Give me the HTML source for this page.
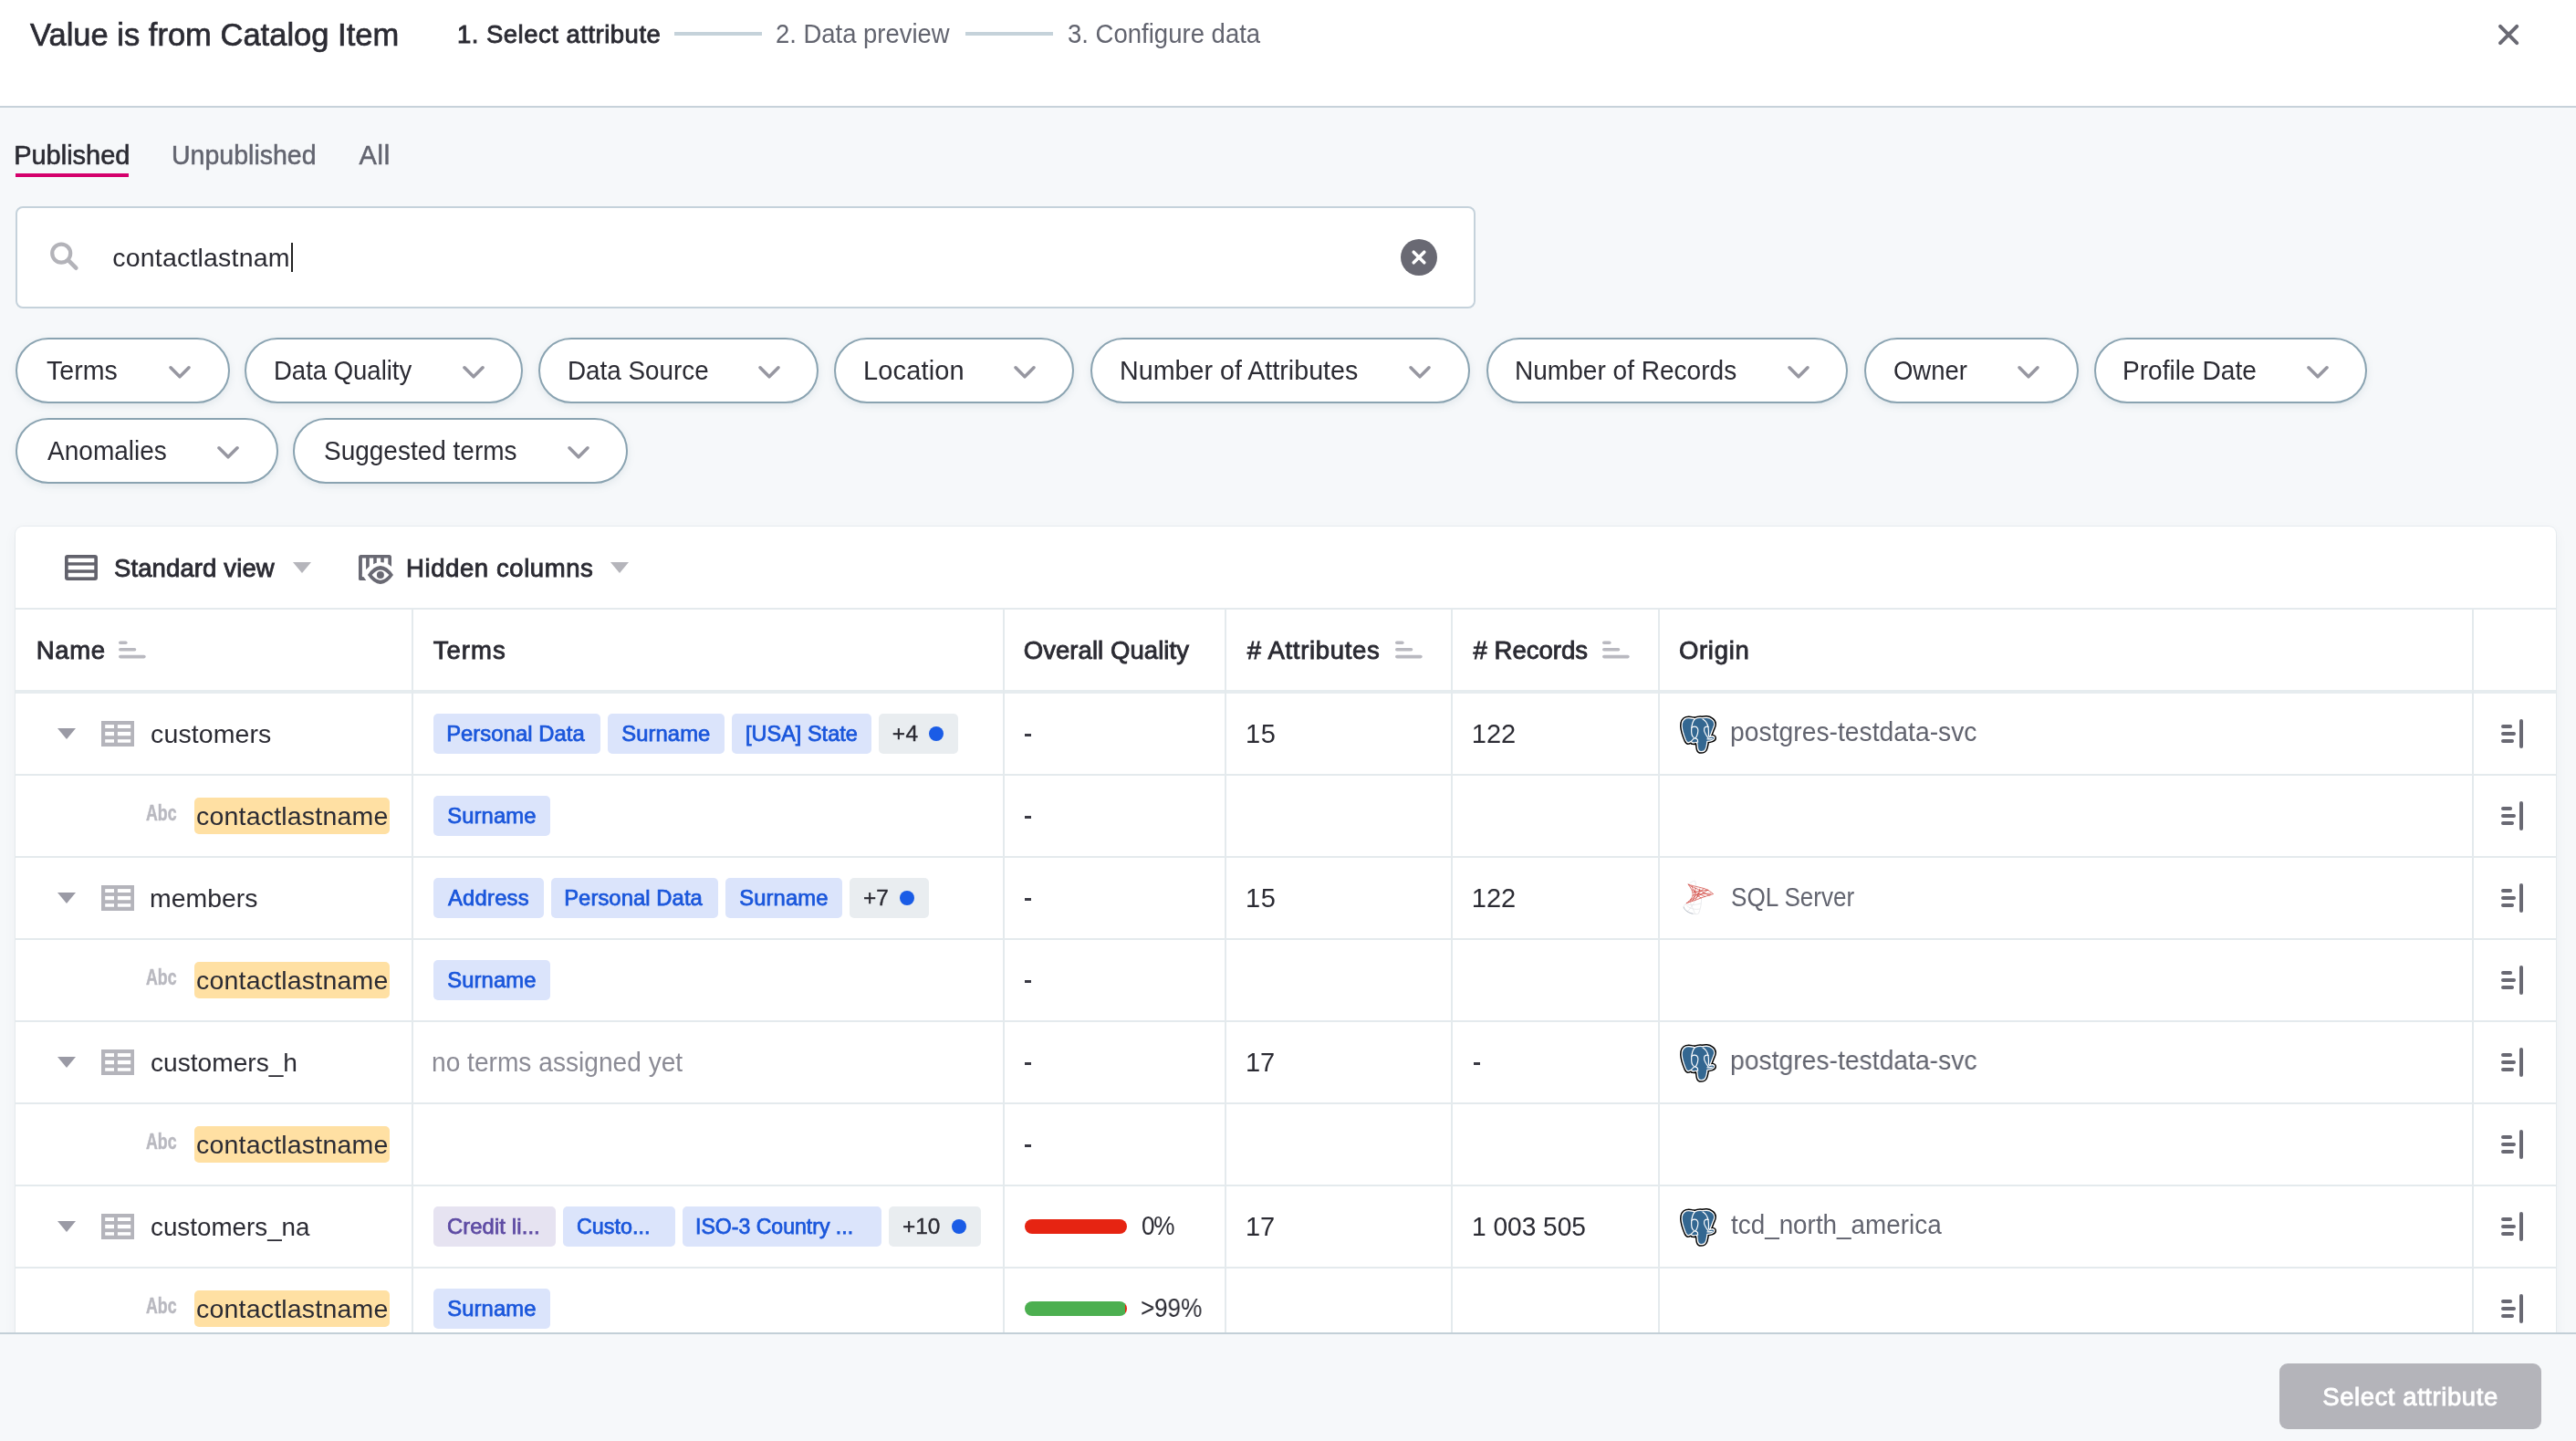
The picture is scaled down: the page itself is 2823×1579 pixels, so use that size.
<!DOCTYPE html>
<html><head><meta charset="utf-8"><title>Value is from Catalog Item</title>
<style>
html,body{margin:0;padding:0;}
body{width:2823px;height:1579px;overflow:hidden;background:#f6f8fa;position:relative;font-family:"Liberation Sans",sans-serif;}
#root{position:absolute;left:0;top:0;width:2823px;height:1579px;overflow:hidden;will-change:transform;}
#root>div,#root>svg,#root>span{position:absolute;display:block;}
#root>span{white-space:pre;line-height:1em;transform-origin:0 0;}
#root>div{box-sizing:content-box;}
</style></head><body><div id="root">
<div style="left:0.0px;top:0.0px;width:2823.0px;height:116.0px;background:#fff;border-bottom:2px solid #c7d2da;"></div>
<div style="left:739.0px;top:35.0px;width:95.7px;height:4.0px;background:#c5d2da;"></div>
<div style="left:1058.0px;top:35.0px;width:96.0px;height:4.0px;background:#c5d2da;"></div>
<svg style="left:2730px;top:18px" width="40" height="40" viewBox="2730 18 40 40"><path d="M2740 28.9 L2758.2 47.1 M2758.2 28.9 L2740 47.1" stroke="#696973" stroke-width="4" stroke-linecap="round" fill="none"/></svg>
<div style="left:16.8px;top:190.2px;width:124.2px;height:3.8px;background:#d4006c;"></div>
<div style="left:17px;top:226px;width:1595.7px;height:108px;background:#fff;border:2px solid #c5d2db;border-radius:8px;"></div>
<svg style="left:50px;top:260px" width="40" height="40" viewBox="50 260 40 40"><circle cx="67.2" cy="277.6" r="10" stroke="#b3b3b9" stroke-width="4.2" fill="none"/><path d="M74.8 285.2 L83.3 293.7" stroke="#b3b3b9" stroke-width="4.6" stroke-linecap="round"/></svg>
<div style="left:319.3px;top:266.2px;width:1.8px;height:31.4px;background:#222;"></div>
<svg style="left:1535px;top:262px" width="40" height="40" viewBox="0 0 40 40"><circle cx="20" cy="20" r="20" fill="#696973"/><path d="M14.2 14.2 L25.8 25.8 M25.8 14.2 L14.2 25.8" stroke="#fff" stroke-width="3.6" stroke-linecap="round"/></svg>
<div style="left:17.2px;top:370.2px;width:230.4px;height:67.8px;background:#fff;border:2px solid #8aa3b1;border-radius:36px;box-shadow:0 3px 8px rgba(90,120,140,0.13);"></div>
<svg style="left:180.8px;top:395.5px" width="32" height="24" viewBox="-16 -12 32 24"><path d="M-10 -5.2 L0 4.8 L10 -5.2" stroke="#9797a1" stroke-width="3.6" stroke-linecap="round" stroke-linejoin="round" fill="none"/></svg>
<div style="left:268.3px;top:370.2px;width:301.2px;height:67.8px;background:#fff;border:2px solid #8aa3b1;border-radius:36px;box-shadow:0 3px 8px rgba(90,120,140,0.13);"></div>
<svg style="left:502.7px;top:395.5px" width="32" height="24" viewBox="-16 -12 32 24"><path d="M-10 -5.2 L0 4.8 L10 -5.2" stroke="#9797a1" stroke-width="3.6" stroke-linecap="round" stroke-linejoin="round" fill="none"/></svg>
<div style="left:590.3px;top:370.2px;width:303.0px;height:67.8px;background:#fff;border:2px solid #8aa3b1;border-radius:36px;box-shadow:0 3px 8px rgba(90,120,140,0.13);"></div>
<svg style="left:826.5px;top:395.5px" width="32" height="24" viewBox="-16 -12 32 24"><path d="M-10 -5.2 L0 4.8 L10 -5.2" stroke="#9797a1" stroke-width="3.6" stroke-linecap="round" stroke-linejoin="round" fill="none"/></svg>
<div style="left:914.3px;top:370.2px;width:259.1px;height:67.8px;background:#fff;border:2px solid #8aa3b1;border-radius:36px;box-shadow:0 3px 8px rgba(90,120,140,0.13);"></div>
<svg style="left:1106.6px;top:395.5px" width="32" height="24" viewBox="-16 -12 32 24"><path d="M-10 -5.2 L0 4.8 L10 -5.2" stroke="#9797a1" stroke-width="3.6" stroke-linecap="round" stroke-linejoin="round" fill="none"/></svg>
<div style="left:1195.0px;top:370.2px;width:412.0px;height:67.8px;background:#fff;border:2px solid #8aa3b1;border-radius:36px;box-shadow:0 3px 8px rgba(90,120,140,0.13);"></div>
<svg style="left:1540.2px;top:395.5px" width="32" height="24" viewBox="-16 -12 32 24"><path d="M-10 -5.2 L0 4.8 L10 -5.2" stroke="#9797a1" stroke-width="3.6" stroke-linecap="round" stroke-linejoin="round" fill="none"/></svg>
<div style="left:1628.5px;top:370.2px;width:392.8px;height:67.8px;background:#fff;border:2px solid #8aa3b1;border-radius:36px;box-shadow:0 3px 8px rgba(90,120,140,0.13);"></div>
<svg style="left:1954.5px;top:395.5px" width="32" height="24" viewBox="-16 -12 32 24"><path d="M-10 -5.2 L0 4.8 L10 -5.2" stroke="#9797a1" stroke-width="3.6" stroke-linecap="round" stroke-linejoin="round" fill="none"/></svg>
<div style="left:2042.9px;top:370.2px;width:231.1px;height:67.8px;background:#fff;border:2px solid #8aa3b1;border-radius:36px;box-shadow:0 3px 8px rgba(90,120,140,0.13);"></div>
<svg style="left:2207.2px;top:395.5px" width="32" height="24" viewBox="-16 -12 32 24"><path d="M-10 -5.2 L0 4.8 L10 -5.2" stroke="#9797a1" stroke-width="3.6" stroke-linecap="round" stroke-linejoin="round" fill="none"/></svg>
<div style="left:2295.0px;top:370.2px;width:295.3px;height:67.8px;background:#fff;border:2px solid #8aa3b1;border-radius:36px;box-shadow:0 3px 8px rgba(90,120,140,0.13);"></div>
<svg style="left:2523.5px;top:395.5px" width="32" height="24" viewBox="-16 -12 32 24"><path d="M-10 -5.2 L0 4.8 L10 -5.2" stroke="#9797a1" stroke-width="3.6" stroke-linecap="round" stroke-linejoin="round" fill="none"/></svg>
<div style="left:17.2px;top:458.2px;width:283.5px;height:67.8px;background:#fff;border:2px solid #8aa3b1;border-radius:36px;box-shadow:0 3px 8px rgba(90,120,140,0.13);"></div>
<svg style="left:233.9px;top:483.5px" width="32" height="24" viewBox="-16 -12 32 24"><path d="M-10 -5.2 L0 4.8 L10 -5.2" stroke="#9797a1" stroke-width="3.6" stroke-linecap="round" stroke-linejoin="round" fill="none"/></svg>
<div style="left:321.0px;top:458.2px;width:363.4px;height:67.8px;background:#fff;border:2px solid #8aa3b1;border-radius:36px;box-shadow:0 3px 8px rgba(90,120,140,0.13);"></div>
<svg style="left:617.6px;top:483.5px" width="32" height="24" viewBox="-16 -12 32 24"><path d="M-10 -5.2 L0 4.8 L10 -5.2" stroke="#9797a1" stroke-width="3.6" stroke-linecap="round" stroke-linejoin="round" fill="none"/></svg>
<div style="left:16.6px;top:577.3px;width:2784.9px;height:902.7px;background:#fff;border-radius:8px 8px 0 0;box-shadow:0 5px 14px rgba(60,80,100,0.06), 0 0 0 1px rgba(205,214,222,0.3);"></div>
<svg style="left:71px;top:608px" width="36" height="28" viewBox="0 0 36 28"><rect x="0" y="0" width="36" height="28" rx="3" fill="#62626c"/><rect x="3.7" y="3.7" width="28.6" height="4.5" fill="#fff"/><rect x="3.7" y="11.6" width="28.6" height="4.7" fill="#fff"/><rect x="3.7" y="19.8" width="28.6" height="4.5" fill="#fff"/></svg>
<svg style="left:321px;top:615.8px" width="20" height="12" viewBox="0 0 20 12"><path d="M0 0 H20 L10 12 Z" fill="#b5b5bb"/></svg>
<svg style="left:668.8px;top:615.8px" width="20" height="12" viewBox="0 0 20 12"><path d="M0 0 H20 L10 12 Z" fill="#b5b5bb"/></svg>
<svg style="left:390px;top:605px" width="44" height="38" viewBox="390 605 44 38">
<defs><clipPath id="hc"><path d="M390 605 H434 V643 H390 Z M396.1 630 Q416.9 602 437.7 630 Q416.9 658 396.1 630 Z" clip-rule="evenodd"/></clipPath></defs>
<g clip-path="url(#hc)" fill="#696973">
<path d="M395.5 608 H426.5 Q429 608 429 610.5 V636 H425.3 V611.6 H420.8 V636 H417.2 V611.6 H412.8 V636 H409.2 V611.6 H404.8 V636 H401.1 V611.6 H396.7 V632.3 H404 V636 H395.5 Q393 636 393 633.5 V610.5 Q393 608 395.5 608 Z"/>
</g>
<path d="M393 610.5 H396.7 V633 H393 Z M393 632.3 H398.6 L401.2 636 H395.5 Q393 636 393 633.5 Z" fill="#696973"/>
<path d="M402.9 630 Q409.5 620 416.9 620 Q424.3 620 431 630 Q424.3 639.9 416.9 639.9 Q409.5 639.9 402.9 630 Z M407.6 630 Q412 635.7 416.9 635.7 Q421.8 635.7 426.4 630 Q421.8 624.4 416.9 624.4 Q412 624.4 407.6 630 Z" fill="#696973" fill-rule="evenodd"/>
<circle cx="416.9" cy="630" r="4" fill="#696973"/>
</svg>
<div style="left:16.6px;top:666.0px;width:2784.9px;height:2.0px;background:#e4eaed;"></div>
<svg style="left:130.2px;top:702px" width="31" height="20" viewBox="0 0 31 20"><rect x="0" y="0.4" width="9.6" height="3.6" rx="1.8" fill="#b9b9c0"/><rect x="0" y="8" width="19.3" height="3.6" rx="1.8" fill="#b9b9c0"/><rect x="0" y="15.8" width="29.7" height="3.6" rx="1.8" fill="#b9b9c0"/></svg>
<svg style="left:1529.0px;top:702px" width="31" height="20" viewBox="0 0 31 20"><rect x="0" y="0.4" width="9.6" height="3.6" rx="1.8" fill="#b9b9c0"/><rect x="0" y="8" width="19.3" height="3.6" rx="1.8" fill="#b9b9c0"/><rect x="0" y="15.8" width="29.7" height="3.6" rx="1.8" fill="#b9b9c0"/></svg>
<svg style="left:1756.2px;top:702px" width="31" height="20" viewBox="0 0 31 20"><rect x="0" y="0.4" width="9.6" height="3.6" rx="1.8" fill="#b9b9c0"/><rect x="0" y="8" width="19.3" height="3.6" rx="1.8" fill="#b9b9c0"/><rect x="0" y="15.8" width="29.7" height="3.6" rx="1.8" fill="#b9b9c0"/></svg>
<div style="left:16.6px;top:756.0px;width:2784.9px;height:4.0px;background:#e6ecef;"></div>
<div style="left:450.6px;top:668.0px;width:2.0px;height:792.0px;background:#e4eaed;"></div>
<div style="left:1099.4px;top:668.0px;width:2.0px;height:792.0px;background:#e4eaed;"></div>
<div style="left:1341.8px;top:668.0px;width:2.0px;height:792.0px;background:#e4eaed;"></div>
<div style="left:1589.7px;top:668.0px;width:2.0px;height:792.0px;background:#e4eaed;"></div>
<div style="left:1816.9px;top:668.0px;width:2.0px;height:792.0px;background:#e4eaed;"></div>
<div style="left:2709.2px;top:668.0px;width:2.0px;height:792.0px;background:#e4eaed;"></div>
<div style="left:16.6px;top:848.0px;width:2784.9px;height:2.0px;background:#e4eaed;"></div>
<div style="left:16.6px;top:938.0px;width:2784.9px;height:2.0px;background:#e4eaed;"></div>
<div style="left:16.6px;top:1028.0px;width:2784.9px;height:2.0px;background:#e4eaed;"></div>
<div style="left:16.6px;top:1118.0px;width:2784.9px;height:2.0px;background:#e4eaed;"></div>
<div style="left:16.6px;top:1208.0px;width:2784.9px;height:2.0px;background:#e4eaed;"></div>
<div style="left:16.6px;top:1298.0px;width:2784.9px;height:2.0px;background:#e4eaed;"></div>
<div style="left:16.6px;top:1388.0px;width:2784.9px;height:2.0px;background:#e4eaed;"></div>
<svg style="left:63.0px;top:797.8px" width="20" height="12" viewBox="0 0 20 12"><path d="M0 0 H20 L10 12 Z" fill="#9a9aa5"/></svg>
<svg style="left:111px;top:790.2px" width="36" height="28" viewBox="0 0 36 28"><rect width="36" height="28" fill="#b4b4bb"/><rect x="4.2" y="4.1" width="9.8" height="3.9" fill="#fff"/><rect x="4.2" y="11.9" width="9.8" height="4.3" fill="#fff"/><rect x="4.2" y="20.2" width="9.8" height="3.5" fill="#fff"/><rect x="17.9" y="4.1" width="14.3" height="3.9" fill="#fff"/><rect x="17.9" y="11.9" width="14.3" height="4.3" fill="#fff"/><rect x="17.9" y="20.2" width="14.3" height="3.5" fill="#fff"/></svg>
<div style="left:474.9px;top:782.0px;width:182.9px;height:43.8px;background:#dbe4fb;border-radius:5px;"></div>
<div style="left:666.0px;top:782.0px;width:127.8px;height:43.8px;background:#dbe4fb;border-radius:5px;"></div>
<div style="left:802.0px;top:782.0px;width:152.7px;height:43.8px;background:#dbe4fb;border-radius:5px;"></div>
<div style="left:962.9px;top:782.0px;width:86.9px;height:43.8px;background:#e9edf0;border-radius:5px;"></div>
<div style="left:1018.0px;top:796.0px;width:16.2px;height:16.2px;border-radius:50%;background:#1a5ce6;"></div>
<div style="left:1122.5px;top:804.2px;width:7.4px;height:2.4px;background:#3a3a44;"></div>
<svg style="left:1839px;top:782.2px" width="44" height="46" viewBox="-2 -2 44 46"><g transform="translate(1.97,1.88) scale(0.9015,0.912)">
<path d="M5.6 1.2 C2 2.5 0 6 0.2 10.8 C0.4 15 2.5 22 4.8 27.5 C6 30 7.4 30.8 8.5 30.4 C9.8 30 10.6 29.6 11.5 29.1 C12.2 30.4 13 30.8 13.9 30.8 C15.5 30.9 17 30.5 18.1 30 C18.4 31 18.7 31.6 18.9 32.5 C19.2 35 19.2 37 19.8 38.7 C20.4 40.5 21.8 41.4 23.5 41.4 C26 41.4 28 40.6 28.9 38.7 C29.8 37 30.3 34.5 30.6 32.5 C30.8 31 30.9 30 31 29.1 C33 29 35.2 28.6 36.9 27.9 C38.6 27.2 39.8 26 39.8 25 C39.8 23.8 38.6 23 37.3 22.9 C36 22.8 35 23.4 33.9 23.7 C35.3 21.4 36.4 18.5 37.3 15.8 C38.6 12.5 39.8 10.6 39.8 8.3 C39.8 6 38.8 4.2 36.9 2.9 C35 1.4 33 0.5 30.6 0.4 C28.6 0.3 26.8 0.4 24.8 0.8 C21.5 0.2 18.5 0.9 15.6 2.1 C14.5 1.6 13.4 1.3 12.3 1.25 C10 0.8 7.6 0.7 5.6 1.2 Z" fill="#336791" stroke="#000" stroke-width="4.7" stroke-linejoin="round"/>
<path d="M5.6 1.2 C2 2.5 0 6 0.2 10.8 C0.4 15 2.5 22 4.8 27.5 C6 30 7.4 30.8 8.5 30.4 C9.8 30 10.6 29.6 11.5 29.1 C12.2 30.4 13 30.8 13.9 30.8 C15.5 30.9 17 30.5 18.1 30 C18.4 31 18.7 31.6 18.9 32.5 C19.2 35 19.2 37 19.8 38.7 C20.4 40.5 21.8 41.4 23.5 41.4 C26 41.4 28 40.6 28.9 38.7 C29.8 37 30.3 34.5 30.6 32.5 C30.8 31 30.9 30 31 29.1 C33 29 35.2 28.6 36.9 27.9 C38.6 27.2 39.8 26 39.8 25 C39.8 23.8 38.6 23 37.3 22.9 C36 22.8 35 23.4 33.9 23.7 C35.3 21.4 36.4 18.5 37.3 15.8 C38.6 12.5 39.8 10.6 39.8 8.3 C39.8 6 38.8 4.2 36.9 2.9 C35 1.4 33 0.5 30.6 0.4 C28.6 0.3 26.8 0.4 24.8 0.8 C21.5 0.2 18.5 0.9 15.6 2.1 C14.5 1.6 13.4 1.3 12.3 1.25 C10 0.8 7.6 0.7 5.6 1.2 Z" fill="#336791" stroke="#fff" stroke-width="1.45" stroke-linejoin="round"/>
<g fill="none" stroke="#fff" stroke-width="1.3" stroke-linecap="round">
<path d="M15.6 2.6 C13 5.5 12.2 9.5 11.9 14.2 C11.7 18 11.4 21.5 13.9 23.8 C15.5 25.2 17 25.6 18.2 26 C19.6 26.6 19.8 28 19.6 30"/>
<path d="M12.1 12.6 C13.8 11.2 16.2 10.8 18 11.8 C19.8 13 20.2 16 19.4 19.4 C18.8 22 17.6 24.2 16.6 25.6"/>
<path d="M25.6 2.4 C29 4.2 31.4 8 32.3 12.4 C32.9 16 32.8 20 32.7 23"/>
<path d="M32.3 11.6 C30.5 10.8 28.2 11.4 27.4 13.4 C26.8 15.2 27.6 17.6 28.8 19.8 C30 22 31.3 23.8 32.4 25.4"/>
<path d="M31 26.3 C33 26.4 35 26.4 37 25.8"/>
<path d="M11.5 29.1 C12.6 27.6 13.8 26.6 14.8 25.6"/>
</g></g></svg>
<div style="left:213.0px;top:873.9px;width:214.0px;height:39.7px;background:#ffe0a3;border-radius:5px;"></div>
<div style="left:474.9px;top:872.0px;width:128.1px;height:43.8px;background:#dbe4fb;border-radius:5px;"></div>
<div style="left:1122.5px;top:894.2px;width:7.4px;height:2.4px;background:#3a3a44;"></div>
<svg style="left:63.0px;top:977.8px" width="20" height="12" viewBox="0 0 20 12"><path d="M0 0 H20 L10 12 Z" fill="#9a9aa5"/></svg>
<svg style="left:111px;top:970.2px" width="36" height="28" viewBox="0 0 36 28"><rect width="36" height="28" fill="#b4b4bb"/><rect x="4.2" y="4.1" width="9.8" height="3.9" fill="#fff"/><rect x="4.2" y="11.9" width="9.8" height="4.3" fill="#fff"/><rect x="4.2" y="20.2" width="9.8" height="3.5" fill="#fff"/><rect x="17.9" y="4.1" width="14.3" height="3.9" fill="#fff"/><rect x="17.9" y="11.9" width="14.3" height="4.3" fill="#fff"/><rect x="17.9" y="20.2" width="14.3" height="3.5" fill="#fff"/></svg>
<div style="left:474.9px;top:962.0px;width:121.1px;height:43.8px;background:#dbe4fb;border-radius:5px;"></div>
<div style="left:604.0px;top:962.0px;width:182.9px;height:43.8px;background:#dbe4fb;border-radius:5px;"></div>
<div style="left:795.1px;top:962.0px;width:127.9px;height:43.8px;background:#dbe4fb;border-radius:5px;"></div>
<div style="left:931.2px;top:962.0px;width:86.8px;height:43.8px;background:#e9edf0;border-radius:5px;"></div>
<div style="left:986.0px;top:976.0px;width:16.2px;height:16.2px;border-radius:50%;background:#1a5ce6;"></div>
<div style="left:1122.5px;top:984.2px;width:7.4px;height:2.4px;background:#3a3a44;"></div>
<svg style="left:1842px;top:964.0px" width="40" height="40" viewBox="1842 -20 40 40">
<g fill="none" stroke-linecap="round">
<g stroke="#d5d8dd" stroke-width="0.7" opacity="0.7">
<path d="M1850.4 -15 C1853 -17.5 1856 -19 1857.6 -18.7 C1858.6 -16 1858.6 -13 1858.8 -10"/>
<path d="M1848.3 5.4 C1845.5 7.5 1844.5 9.5 1845.2 11.5 C1847 15 1852 16.8 1856 17.4 C1858.5 17.8 1860.5 17.8 1861.5 17 C1863.6 12 1864.6 6 1864.6 1.2"/>
<path d="M1849 9 C1853 12 1858 13 1862.6 12"/><path d="M1852 4 C1854 9 1856 13 1857.5 17.4"/><path d="M1858 2 C1856 7 1852 12 1849.5 14.6"/><path d="M1847 7 C1852 8 1858 8 1864 6"/>
</g>
<path d="M1845.2 10 C1846.5 14 1851 16.4 1855 17.2" stroke="#8b98a8" stroke-width="0.9" opacity="0.6"/>
<g stroke="#c8271f" stroke-width="0.72" opacity="0.88">
<path d="M1850.2 -14.9 C1857 -12.5 1866 -11.5 1871 -9 C1874.5 -7 1876.8 -5.3 1877.6 -4.4 C1873 -3 1868 -1.6 1864 0 C1858 2.4 1852 4.4 1848.3 5.6"/>
<path d="M1850.2 -14.9 C1853 -11 1855 -7.6 1855.2 -4.4 C1855.4 -1 1852 3 1848.3 5.6"/>
<path d="M1851.8 -13.6 C1858 -11 1864 -8 1869 -5 C1871 -3.6 1873 -2.8 1874 -3"/>
<path d="M1854 -12.5 C1857 -6 1860 -2 1864.4 0"/>
<path d="M1855.2 -6 C1860 -7.5 1866 -8.5 1872 -8.5"/>
<path d="M1855 -3 C1860 -3.5 1868 -5 1875 -5"/>
<path d="M1852.4 2.4 C1857 -1 1863 -6 1867 -10.4"/>
<path d="M1850.5 4.4 C1856 2 1862 -3 1871.5 -8.8"/>
<path d="M1857.8 -10.6 C1858 -6 1857 -1 1855 3"/>
<path d="M1862.8 -10 C1862 -5 1860 -1 1858 2"/>
<path d="M1854.5 -9 C1858 -7 1862 -4 1868.6 -1.6"/>
</g></g></svg>
<div style="left:213.0px;top:1053.9px;width:214.0px;height:39.7px;background:#ffe0a3;border-radius:5px;"></div>
<div style="left:474.9px;top:1052.0px;width:128.1px;height:43.8px;background:#dbe4fb;border-radius:5px;"></div>
<div style="left:1122.5px;top:1074.2px;width:7.4px;height:2.4px;background:#3a3a44;"></div>
<svg style="left:63.0px;top:1157.8px" width="20" height="12" viewBox="0 0 20 12"><path d="M0 0 H20 L10 12 Z" fill="#9a9aa5"/></svg>
<svg style="left:111px;top:1150.2px" width="36" height="28" viewBox="0 0 36 28"><rect width="36" height="28" fill="#b4b4bb"/><rect x="4.2" y="4.1" width="9.8" height="3.9" fill="#fff"/><rect x="4.2" y="11.9" width="9.8" height="4.3" fill="#fff"/><rect x="4.2" y="20.2" width="9.8" height="3.5" fill="#fff"/><rect x="17.9" y="4.1" width="14.3" height="3.9" fill="#fff"/><rect x="17.9" y="11.9" width="14.3" height="4.3" fill="#fff"/><rect x="17.9" y="20.2" width="14.3" height="3.5" fill="#fff"/></svg>
<div style="left:1122.5px;top:1164.2px;width:7.4px;height:2.4px;background:#3a3a44;"></div>
<div style="left:1614.6px;top:1164.2px;width:7.4px;height:2.4px;background:#3a3a44;"></div>
<svg style="left:1839px;top:1142.2px" width="44" height="46" viewBox="-2 -2 44 46"><g transform="translate(1.97,1.88) scale(0.9015,0.912)">
<path d="M5.6 1.2 C2 2.5 0 6 0.2 10.8 C0.4 15 2.5 22 4.8 27.5 C6 30 7.4 30.8 8.5 30.4 C9.8 30 10.6 29.6 11.5 29.1 C12.2 30.4 13 30.8 13.9 30.8 C15.5 30.9 17 30.5 18.1 30 C18.4 31 18.7 31.6 18.9 32.5 C19.2 35 19.2 37 19.8 38.7 C20.4 40.5 21.8 41.4 23.5 41.4 C26 41.4 28 40.6 28.9 38.7 C29.8 37 30.3 34.5 30.6 32.5 C30.8 31 30.9 30 31 29.1 C33 29 35.2 28.6 36.9 27.9 C38.6 27.2 39.8 26 39.8 25 C39.8 23.8 38.6 23 37.3 22.9 C36 22.8 35 23.4 33.9 23.7 C35.3 21.4 36.4 18.5 37.3 15.8 C38.6 12.5 39.8 10.6 39.8 8.3 C39.8 6 38.8 4.2 36.9 2.9 C35 1.4 33 0.5 30.6 0.4 C28.6 0.3 26.8 0.4 24.8 0.8 C21.5 0.2 18.5 0.9 15.6 2.1 C14.5 1.6 13.4 1.3 12.3 1.25 C10 0.8 7.6 0.7 5.6 1.2 Z" fill="#336791" stroke="#000" stroke-width="4.7" stroke-linejoin="round"/>
<path d="M5.6 1.2 C2 2.5 0 6 0.2 10.8 C0.4 15 2.5 22 4.8 27.5 C6 30 7.4 30.8 8.5 30.4 C9.8 30 10.6 29.6 11.5 29.1 C12.2 30.4 13 30.8 13.9 30.8 C15.5 30.9 17 30.5 18.1 30 C18.4 31 18.7 31.6 18.9 32.5 C19.2 35 19.2 37 19.8 38.7 C20.4 40.5 21.8 41.4 23.5 41.4 C26 41.4 28 40.6 28.9 38.7 C29.8 37 30.3 34.5 30.6 32.5 C30.8 31 30.9 30 31 29.1 C33 29 35.2 28.6 36.9 27.9 C38.6 27.2 39.8 26 39.8 25 C39.8 23.8 38.6 23 37.3 22.9 C36 22.8 35 23.4 33.9 23.7 C35.3 21.4 36.4 18.5 37.3 15.8 C38.6 12.5 39.8 10.6 39.8 8.3 C39.8 6 38.8 4.2 36.9 2.9 C35 1.4 33 0.5 30.6 0.4 C28.6 0.3 26.8 0.4 24.8 0.8 C21.5 0.2 18.5 0.9 15.6 2.1 C14.5 1.6 13.4 1.3 12.3 1.25 C10 0.8 7.6 0.7 5.6 1.2 Z" fill="#336791" stroke="#fff" stroke-width="1.45" stroke-linejoin="round"/>
<g fill="none" stroke="#fff" stroke-width="1.3" stroke-linecap="round">
<path d="M15.6 2.6 C13 5.5 12.2 9.5 11.9 14.2 C11.7 18 11.4 21.5 13.9 23.8 C15.5 25.2 17 25.6 18.2 26 C19.6 26.6 19.8 28 19.6 30"/>
<path d="M12.1 12.6 C13.8 11.2 16.2 10.8 18 11.8 C19.8 13 20.2 16 19.4 19.4 C18.8 22 17.6 24.2 16.6 25.6"/>
<path d="M25.6 2.4 C29 4.2 31.4 8 32.3 12.4 C32.9 16 32.8 20 32.7 23"/>
<path d="M32.3 11.6 C30.5 10.8 28.2 11.4 27.4 13.4 C26.8 15.2 27.6 17.6 28.8 19.8 C30 22 31.3 23.8 32.4 25.4"/>
<path d="M31 26.3 C33 26.4 35 26.4 37 25.8"/>
<path d="M11.5 29.1 C12.6 27.6 13.8 26.6 14.8 25.6"/>
</g></g></svg>
<div style="left:213.0px;top:1233.9px;width:214.0px;height:39.7px;background:#ffe0a3;border-radius:5px;"></div>
<div style="left:1122.5px;top:1254.2px;width:7.4px;height:2.4px;background:#3a3a44;"></div>
<svg style="left:63.0px;top:1337.8px" width="20" height="12" viewBox="0 0 20 12"><path d="M0 0 H20 L10 12 Z" fill="#9a9aa5"/></svg>
<svg style="left:111px;top:1330.2px" width="36" height="28" viewBox="0 0 36 28"><rect width="36" height="28" fill="#b4b4bb"/><rect x="4.2" y="4.1" width="9.8" height="3.9" fill="#fff"/><rect x="4.2" y="11.9" width="9.8" height="4.3" fill="#fff"/><rect x="4.2" y="20.2" width="9.8" height="3.5" fill="#fff"/><rect x="17.9" y="4.1" width="14.3" height="3.9" fill="#fff"/><rect x="17.9" y="11.9" width="14.3" height="4.3" fill="#fff"/><rect x="17.9" y="20.2" width="14.3" height="3.5" fill="#fff"/></svg>
<div style="left:474.9px;top:1322.0px;width:134.0px;height:43.8px;background:#e6e3f1;border-radius:5px;"></div>
<div style="left:617.0px;top:1322.0px;width:123.0px;height:43.8px;background:#dbe4fb;border-radius:5px;"></div>
<div style="left:748.0px;top:1322.0px;width:218.0px;height:43.8px;background:#dbe4fb;border-radius:5px;"></div>
<div style="left:974.2px;top:1322.0px;width:101.0px;height:43.8px;background:#e9edf0;border-radius:5px;"></div>
<div style="left:1043.0px;top:1336.0px;width:16.2px;height:16.2px;border-radius:50%;background:#1a5ce6;"></div>
<div style="left:1122.5px;top:1335.7px;width:112.7px;height:16.3px;background:#e62412;border-radius:9px;"></div>
<svg style="left:1839px;top:1322.2px" width="44" height="46" viewBox="-2 -2 44 46"><g transform="translate(1.97,1.88) scale(0.9015,0.912)">
<path d="M5.6 1.2 C2 2.5 0 6 0.2 10.8 C0.4 15 2.5 22 4.8 27.5 C6 30 7.4 30.8 8.5 30.4 C9.8 30 10.6 29.6 11.5 29.1 C12.2 30.4 13 30.8 13.9 30.8 C15.5 30.9 17 30.5 18.1 30 C18.4 31 18.7 31.6 18.9 32.5 C19.2 35 19.2 37 19.8 38.7 C20.4 40.5 21.8 41.4 23.5 41.4 C26 41.4 28 40.6 28.9 38.7 C29.8 37 30.3 34.5 30.6 32.5 C30.8 31 30.9 30 31 29.1 C33 29 35.2 28.6 36.9 27.9 C38.6 27.2 39.8 26 39.8 25 C39.8 23.8 38.6 23 37.3 22.9 C36 22.8 35 23.4 33.9 23.7 C35.3 21.4 36.4 18.5 37.3 15.8 C38.6 12.5 39.8 10.6 39.8 8.3 C39.8 6 38.8 4.2 36.9 2.9 C35 1.4 33 0.5 30.6 0.4 C28.6 0.3 26.8 0.4 24.8 0.8 C21.5 0.2 18.5 0.9 15.6 2.1 C14.5 1.6 13.4 1.3 12.3 1.25 C10 0.8 7.6 0.7 5.6 1.2 Z" fill="#336791" stroke="#000" stroke-width="4.7" stroke-linejoin="round"/>
<path d="M5.6 1.2 C2 2.5 0 6 0.2 10.8 C0.4 15 2.5 22 4.8 27.5 C6 30 7.4 30.8 8.5 30.4 C9.8 30 10.6 29.6 11.5 29.1 C12.2 30.4 13 30.8 13.9 30.8 C15.5 30.9 17 30.5 18.1 30 C18.4 31 18.7 31.6 18.9 32.5 C19.2 35 19.2 37 19.8 38.7 C20.4 40.5 21.8 41.4 23.5 41.4 C26 41.4 28 40.6 28.9 38.7 C29.8 37 30.3 34.5 30.6 32.5 C30.8 31 30.9 30 31 29.1 C33 29 35.2 28.6 36.9 27.9 C38.6 27.2 39.8 26 39.8 25 C39.8 23.8 38.6 23 37.3 22.9 C36 22.8 35 23.4 33.9 23.7 C35.3 21.4 36.4 18.5 37.3 15.8 C38.6 12.5 39.8 10.6 39.8 8.3 C39.8 6 38.8 4.2 36.9 2.9 C35 1.4 33 0.5 30.6 0.4 C28.6 0.3 26.8 0.4 24.8 0.8 C21.5 0.2 18.5 0.9 15.6 2.1 C14.5 1.6 13.4 1.3 12.3 1.25 C10 0.8 7.6 0.7 5.6 1.2 Z" fill="#336791" stroke="#fff" stroke-width="1.45" stroke-linejoin="round"/>
<g fill="none" stroke="#fff" stroke-width="1.3" stroke-linecap="round">
<path d="M15.6 2.6 C13 5.5 12.2 9.5 11.9 14.2 C11.7 18 11.4 21.5 13.9 23.8 C15.5 25.2 17 25.6 18.2 26 C19.6 26.6 19.8 28 19.6 30"/>
<path d="M12.1 12.6 C13.8 11.2 16.2 10.8 18 11.8 C19.8 13 20.2 16 19.4 19.4 C18.8 22 17.6 24.2 16.6 25.6"/>
<path d="M25.6 2.4 C29 4.2 31.4 8 32.3 12.4 C32.9 16 32.8 20 32.7 23"/>
<path d="M32.3 11.6 C30.5 10.8 28.2 11.4 27.4 13.4 C26.8 15.2 27.6 17.6 28.8 19.8 C30 22 31.3 23.8 32.4 25.4"/>
<path d="M31 26.3 C33 26.4 35 26.4 37 25.8"/>
<path d="M11.5 29.1 C12.6 27.6 13.8 26.6 14.8 25.6"/>
</g></g></svg>
<div style="left:213.0px;top:1413.9px;width:214.0px;height:39.7px;background:#ffe0a3;border-radius:5px;"></div>
<div style="left:474.9px;top:1412.0px;width:128.1px;height:43.8px;background:#dbe4fb;border-radius:5px;"></div>
<div style="left:1122.5px;top:1425.7px;width:112.7px;height:16.3px;background:linear-gradient(to right,#4caf50 0,#4caf50 98.4%,#e62412 98.4%);border-radius:9px;"></div>
<svg style="left:2739px;top:786.0px" width="28" height="36" viewBox="2739 -18 28 36"><g stroke="#696973" stroke-width="4" stroke-linecap="round"><path d="M2743 -8 H2751.1 M2743 0 H2755 M2743 8 H2753 M2763 -14.1 V13.9"/></g></svg>
<svg style="left:2739px;top:876.0px" width="28" height="36" viewBox="2739 -18 28 36"><g stroke="#696973" stroke-width="4" stroke-linecap="round"><path d="M2743 -8 H2751.1 M2743 0 H2755 M2743 8 H2753 M2763 -14.1 V13.9"/></g></svg>
<svg style="left:2739px;top:966.0px" width="28" height="36" viewBox="2739 -18 28 36"><g stroke="#696973" stroke-width="4" stroke-linecap="round"><path d="M2743 -8 H2751.1 M2743 0 H2755 M2743 8 H2753 M2763 -14.1 V13.9"/></g></svg>
<svg style="left:2739px;top:1056.0px" width="28" height="36" viewBox="2739 -18 28 36"><g stroke="#696973" stroke-width="4" stroke-linecap="round"><path d="M2743 -8 H2751.1 M2743 0 H2755 M2743 8 H2753 M2763 -14.1 V13.9"/></g></svg>
<svg style="left:2739px;top:1146.0px" width="28" height="36" viewBox="2739 -18 28 36"><g stroke="#696973" stroke-width="4" stroke-linecap="round"><path d="M2743 -8 H2751.1 M2743 0 H2755 M2743 8 H2753 M2763 -14.1 V13.9"/></g></svg>
<svg style="left:2739px;top:1236.0px" width="28" height="36" viewBox="2739 -18 28 36"><g stroke="#696973" stroke-width="4" stroke-linecap="round"><path d="M2743 -8 H2751.1 M2743 0 H2755 M2743 8 H2753 M2763 -14.1 V13.9"/></g></svg>
<svg style="left:2739px;top:1326.0px" width="28" height="36" viewBox="2739 -18 28 36"><g stroke="#696973" stroke-width="4" stroke-linecap="round"><path d="M2743 -8 H2751.1 M2743 0 H2755 M2743 8 H2753 M2763 -14.1 V13.9"/></g></svg>
<svg style="left:2739px;top:1416.0px" width="28" height="36" viewBox="2739 -18 28 36"><g stroke="#696973" stroke-width="4" stroke-linecap="round"><path d="M2743 -8 H2751.1 M2743 0 H2755 M2743 8 H2753 M2763 -14.1 V13.9"/></g></svg>
<span style="left:33.20px;top:20.00px;font-size:35px;letter-spacing:0.000px;color:#2b2b33;transform:scaleX(0.9863);-webkit-text-stroke:0.7px #2b2b33;">Value is from Catalog Item</span>
<span style="left:500.88px;top:24.00px;font-size:27.5px;letter-spacing:0.496px;color:#2b2b33;-webkit-text-stroke:0.87px #2b2b33;">1. Select attribute</span>
<span style="left:850.21px;top:23.00px;font-size:29px;letter-spacing:0.000px;color:#62646f;transform:scaleX(0.9462);">2. Data preview</span>
<span style="left:1169.94px;top:23.00px;font-size:29px;letter-spacing:0.000px;color:#62646f;transform:scaleX(0.9492);">3. Configure data</span>
<span style="left:15.14px;top:156.00px;font-size:29px;letter-spacing:0.000px;color:#2b2b33;-webkit-text-stroke:0.6px #2b2b33;">Published</span>
<span style="left:187.62px;top:156.00px;font-size:29px;letter-spacing:0.000px;color:#62646f;transform:scaleX(0.9836);-webkit-text-stroke:0.5px #62646f;">Unpublished</span>
<span style="left:393.50px;top:156.00px;font-size:29px;letter-spacing:0.742px;color:#62646f;-webkit-text-stroke:0.5px #62646f;">All</span>
<span style="left:123.31px;top:268.00px;font-size:28.5px;letter-spacing:0.191px;color:#2b2b33;">contactlastnam</span>
<span style="left:51.25px;top:392.00px;font-size:29px;letter-spacing:0.000px;color:#2b2b33;transform:scaleX(0.9847);">Terms</span>
<span style="left:300.15px;top:392.00px;font-size:29px;letter-spacing:0.000px;color:#2b2b33;transform:scaleX(0.9478);">Data Quality</span>
<span style="left:622.13px;top:392.00px;font-size:29px;letter-spacing:0.000px;color:#2b2b33;transform:scaleX(0.9591);">Data Source</span>
<span style="left:946.03px;top:392.00px;font-size:29px;letter-spacing:0.150px;color:#2b2b33;">Location</span>
<span style="left:1226.66px;top:392.00px;font-size:29px;letter-spacing:0.000px;color:#2b2b33;transform:scaleX(0.9887);">Number of Attributes</span>
<span style="left:1660.31px;top:392.00px;font-size:29px;letter-spacing:0.000px;color:#2b2b33;transform:scaleX(0.9671);">Number of Records</span>
<span style="left:2075.01px;top:392.00px;font-size:29px;letter-spacing:0.000px;color:#2b2b33;transform:scaleX(0.9474);">Owner</span>
<span style="left:2326.30px;top:392.00px;font-size:29px;letter-spacing:0.000px;color:#2b2b33;transform:scaleX(0.9698);">Profile Date</span>
<span style="left:51.70px;top:480.00px;font-size:29px;letter-spacing:0.000px;color:#2b2b33;transform:scaleX(0.9666);">Anomalies</span>
<span style="left:354.83px;top:480.00px;font-size:29px;letter-spacing:0.000px;color:#2b2b33;transform:scaleX(0.9650);">Suggested terms</span>
<span style="left:124.94px;top:609.00px;font-size:27.5px;letter-spacing:0.122px;color:#2b2b33;-webkit-text-stroke:0.87px #2b2b33;">Standard view</span>
<span style="left:445.05px;top:609.00px;font-size:27.5px;letter-spacing:0.586px;color:#2b2b33;-webkit-text-stroke:0.87px #2b2b33;">Hidden columns</span>
<span style="left:39.75px;top:699.00px;font-size:27.5px;letter-spacing:0.669px;color:#2b2b33;-webkit-text-stroke:0.87px #2b2b33;">Name</span>
<span style="left:474.77px;top:699.00px;font-size:27.5px;letter-spacing:1.032px;color:#2b2b33;-webkit-text-stroke:0.87px #2b2b33;">Terms</span>
<span style="left:1121.71px;top:699.00px;font-size:27.5px;letter-spacing:0.068px;color:#2b2b33;-webkit-text-stroke:0.87px #2b2b33;">Overall Quality</span>
<span style="left:1366.70px;top:699.00px;font-size:27.5px;letter-spacing:0.687px;color:#2b2b33;-webkit-text-stroke:0.87px #2b2b33;"># Attributes</span>
<span style="left:1614.60px;top:699.00px;font-size:27.5px;letter-spacing:0.000px;color:#2b2b33;-webkit-text-stroke:0.87px #2b2b33;"># Records</span>
<span style="left:1839.91px;top:699.00px;font-size:27.5px;letter-spacing:0.696px;color:#2b2b33;-webkit-text-stroke:0.87px #2b2b33;">Origin</span>
<span style="left:165.11px;top:790.00px;font-size:28.5px;letter-spacing:0.091px;color:#2b2b33;">customers</span>
<span style="left:489.14px;top:792.00px;font-size:23.8px;letter-spacing:0.066px;color:#1a56db;-webkit-text-stroke:0.75px #1a56db;">Personal Data</span>
<span style="left:681.16px;top:792.00px;font-size:23.8px;letter-spacing:0.106px;color:#1a56db;-webkit-text-stroke:0.75px #1a56db;">Surname</span>
<span style="left:816.73px;top:792.00px;font-size:23.8px;letter-spacing:0.000px;color:#1a56db;transform:scaleX(0.9877);-webkit-text-stroke:0.75px #1a56db;">[USA] State</span>
<span style="left:977.85px;top:792.00px;font-size:24.5px;letter-spacing:0.325px;color:#2b2b33;-webkit-text-stroke:0.4px #2b2b33;">+4</span>
<span style="left:1364.89px;top:790.00px;font-size:29px;letter-spacing:0.831px;color:#2b2b33;">15</span>
<span style="left:1612.79px;top:790.00px;font-size:29px;letter-spacing:0.001px;color:#2b2b33;">122</span>
<span style="left:1895.93px;top:788.00px;font-size:29px;letter-spacing:0.000px;color:#62646f;transform:scaleX(0.9758);">postgres-testdata-svc</span>
<span style="left:160.32px;top:879.00px;font-size:24.5px;letter-spacing:0.000px;color:#b9b9c0;font-weight:bold;transform:scaleX(0.7242);-webkit-text-stroke:0.5px #b9b9c0;">Abc</span>
<span style="left:215.11px;top:880.00px;font-size:28.5px;letter-spacing:0.187px;color:#2b2b33;">contactlastname</span>
<span style="left:490.26px;top:882.00px;font-size:23.8px;letter-spacing:0.106px;color:#1a56db;-webkit-text-stroke:0.75px #1a56db;">Surname</span>
<span style="left:164.22px;top:970.00px;font-size:28.5px;letter-spacing:0.000px;color:#2b2b33;transform:scaleX(0.9974);">members</span>
<span style="left:491.00px;top:972.00px;font-size:23.8px;letter-spacing:0.222px;color:#1a56db;-webkit-text-stroke:0.75px #1a56db;">Address</span>
<span style="left:618.14px;top:972.00px;font-size:23.8px;letter-spacing:0.074px;color:#1a56db;-webkit-text-stroke:0.75px #1a56db;">Personal Data</span>
<span style="left:810.26px;top:972.00px;font-size:23.8px;letter-spacing:0.106px;color:#1a56db;-webkit-text-stroke:0.75px #1a56db;">Surname</span>
<span style="left:945.86px;top:972.00px;font-size:24.5px;letter-spacing:0.000px;color:#2b2b33;transform:scaleX(0.9964);-webkit-text-stroke:0.4px #2b2b33;">+7</span>
<span style="left:1364.89px;top:970.00px;font-size:29px;letter-spacing:0.831px;color:#2b2b33;">15</span>
<span style="left:1612.79px;top:970.00px;font-size:29px;letter-spacing:0.001px;color:#2b2b33;">122</span>
<span style="left:1896.88px;top:969.00px;font-size:29px;letter-spacing:-0.013px;color:#62646f;transform:scaleX(0.9000);">SQL Server</span>
<span style="left:160.32px;top:1059.00px;font-size:24.5px;letter-spacing:0.000px;color:#b9b9c0;font-weight:bold;transform:scaleX(0.7242);-webkit-text-stroke:0.5px #b9b9c0;">Abc</span>
<span style="left:215.11px;top:1060.00px;font-size:28.5px;letter-spacing:0.187px;color:#2b2b33;">contactlastname</span>
<span style="left:490.26px;top:1062.00px;font-size:23.8px;letter-spacing:0.106px;color:#1a56db;-webkit-text-stroke:0.75px #1a56db;">Surname</span>
<span style="left:165.12px;top:1150.00px;font-size:28.5px;letter-spacing:0.000px;color:#2b2b33;transform:scaleX(0.9866);">customers_h</span>
<span style="left:472.94px;top:1150.00px;font-size:29px;letter-spacing:0.000px;color:#8b8b95;transform:scaleX(0.9699);">no terms assigned yet</span>
<span style="left:1364.89px;top:1150.00px;font-size:29px;letter-spacing:0.031px;color:#2b2b33;">17</span>
<span style="left:1895.93px;top:1148.00px;font-size:29px;letter-spacing:0.000px;color:#62646f;transform:scaleX(0.9758);">postgres-testdata-svc</span>
<span style="left:160.32px;top:1239.00px;font-size:24.5px;letter-spacing:0.000px;color:#b9b9c0;font-weight:bold;transform:scaleX(0.7242);-webkit-text-stroke:0.5px #b9b9c0;">Abc</span>
<span style="left:215.11px;top:1240.00px;font-size:28.5px;letter-spacing:0.187px;color:#2b2b33;">contactlastname</span>
<span style="left:165.13px;top:1330.00px;font-size:28.5px;letter-spacing:0.000px;color:#2b2b33;transform:scaleX(0.9748);">customers_na</span>
<span style="left:489.88px;top:1332.00px;font-size:23.8px;letter-spacing:0.123px;color:#5e4ba3;-webkit-text-stroke:0.75px #5e4ba3;">Credit li...</span>
<span style="left:632.40px;top:1332.00px;font-size:23.8px;letter-spacing:0.000px;color:#1a56db;transform:scaleX(0.9817);-webkit-text-stroke:0.75px #1a56db;">Custo...</span>
<span style="left:762.20px;top:1332.00px;font-size:23.8px;letter-spacing:0.000px;color:#1a56db;transform:scaleX(0.9694);-webkit-text-stroke:0.75px #1a56db;">ISO-3 Country ...</span>
<span style="left:988.86px;top:1332.00px;font-size:24.5px;letter-spacing:0.000px;color:#2b2b33;transform:scaleX(0.9950);-webkit-text-stroke:0.4px #2b2b33;">+10</span>
<span style="left:1250.58px;top:1329.00px;font-size:29px;letter-spacing:-1.477px;color:#2b2b33;transform:scaleX(0.9000);">0%</span>
<span style="left:1364.89px;top:1330.00px;font-size:29px;letter-spacing:0.031px;color:#2b2b33;">17</span>
<span style="left:1612.84px;top:1330.00px;font-size:29px;letter-spacing:0.000px;color:#2b2b33;transform:scaleX(0.9689);">1 003 505</span>
<span style="left:1897.10px;top:1328.00px;font-size:29px;letter-spacing:0.000px;color:#62646f;transform:scaleX(0.9602);">tcd_north_america</span>
<span style="left:160.32px;top:1419.00px;font-size:24.5px;letter-spacing:0.000px;color:#b9b9c0;font-weight:bold;transform:scaleX(0.7242);-webkit-text-stroke:0.5px #b9b9c0;">Abc</span>
<span style="left:215.11px;top:1420.00px;font-size:28.5px;letter-spacing:0.187px;color:#2b2b33;">contactlastname</span>
<span style="left:490.26px;top:1422.00px;font-size:23.8px;letter-spacing:0.106px;color:#1a56db;-webkit-text-stroke:0.75px #1a56db;">Surname</span>
<span style="left:1250.18px;top:1419.00px;font-size:29px;letter-spacing:-0.103px;color:#2b2b33;transform:scaleX(0.9000);">&gt;99%</span>
<div style="left:0;top:1460px;width:2823px;height:119px;background:#f6f8fa;border-top:2px solid #c3cfd7;box-sizing:border-box;"></div>
<div style="left:2498px;top:1494px;width:287.2px;height:72px;background:#b4b4ba;border-radius:9px;"></div>
<span style="left:2545.24px;top:1517.00px;font-size:27.5px;letter-spacing:0.569px;color:#fff;-webkit-text-stroke:0.87px #fff;">Select attribute</span>
</div></body></html>
